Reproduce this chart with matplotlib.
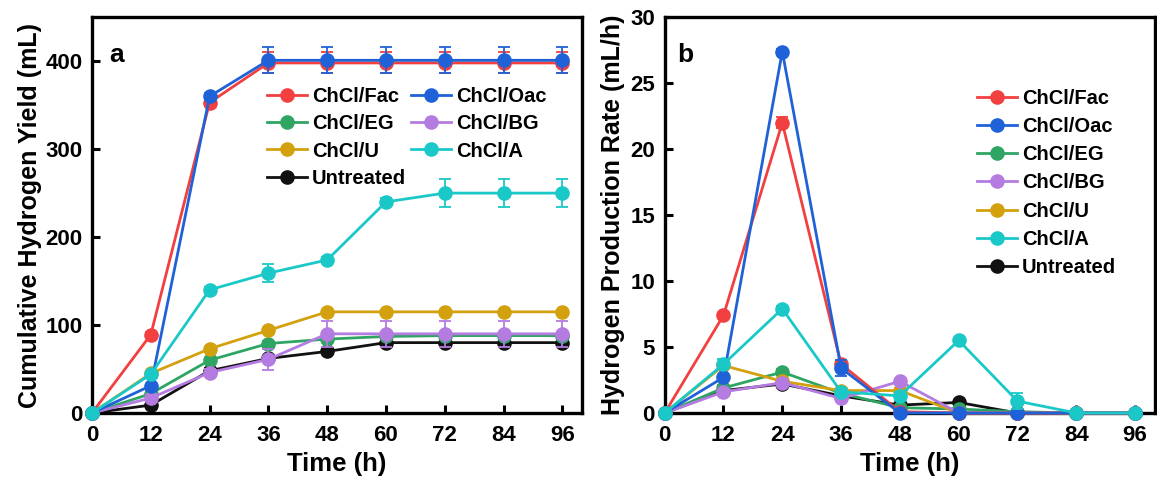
import matplotlib
matplotlib.use("Agg")
import matplotlib.pyplot as plt
from matplotlib.lines import Line2D

plt.rcParams['font.family'] = ['Liberation Sans', 'DejaVu Sans']
plt.rcParams['font.weight'] = 'bold'

time_h = [0, 12, 24, 36, 48, 60, 72, 84, 96]
names = ["ChCl/Fac", "ChCl/Oac", "ChCl/EG", "ChCl/BG", "ChCl/U", "ChCl/A", "Untreated"]
colors = ["#F23F3F", "#1F62D8", "#2FA563", "#B47BE0", "#D3A00E", "#1BC8C8", "#111111"]

# cumulative hydrogen yield (mL)
cum_fac = [0, 89, 353, 398, 398, 398, 398, 398, 398]
cum_oac = [0, 31, 360, 401, 401, 401, 401, 401, 401]
cum_eg = [0, 22, 60, 79, 84, 87, 88, 88, 88]
cum_bg = [0, 17, 46, 61, 90, 90, 90, 90, 90]
cum_u = [0, 45, 73, 94, 115, 115, 115, 115, 115]
cum_a = [0, 44, 140, 159, 174, 240, 250, 250, 250]
cum_un = [0, 9, 48, 62, 70, 80, 80, 80, 80]

err_fac = [0, 3, 4, 12, 12, 12, 12, 12, 12]
err_oac = [0, 2, 4, 15, 15, 15, 15, 15, 15]
err_eg = [0, 3, 3, 3, 3, 3, 3, 3, 3]
err_bg = [0, 3, 4, 12, 15, 15, 15, 15, 15]
err_u = [0, 2, 2, 2, 2, 2, 2, 2, 2]
err_a = [0, 3, 3, 10, 3, 4, 16, 16, 16]
err_un = [0, 2, 3, 3, 2, 2, 2, 2, 2]

# hydrogen production rate (mL/h)
rate_fac = [0, 7.4, 22.0, 3.7, 0.1, 0, 0, 0, 0]
rate_oac = [0, 2.7, 27.4, 3.4, 0, 0, 0, 0, 0]
rate_eg = [0, 1.9, 3.1, 1.5, 0.4, 0.3, 0.1, 0, 0]
rate_bg = [0, 1.6, 2.3, 1.1, 2.4, 0, 0, 0, 0]
rate_u = [0, 3.6, 2.4, 1.7, 1.7, 0, 0, 0, 0]
rate_a = [0, 3.7, 7.9, 1.6, 1.3, 5.5, 0.9, 0, 0]
rate_un = [0, 1.7, 2.2, 1.3, 0.6, 0.8, 0, 0, 0]

rerr_fac = [0, 0.2, 0.4, 0.2, 0, 0, 0, 0, 0]
rerr_oac = [0, 0.2, 0.2, 0.6, 0, 0, 0, 0, 0]
rerr_eg = [0, 0.2, 0.2, 0.2, 0.1, 0.1, 0.1, 0, 0]
rerr_bg = [0, 0.2, 0.2, 0.2, 0.2, 0, 0, 0, 0]
rerr_u = [0, 0.3, 0.2, 0.2, 0.2, 0, 0, 0, 0]
rerr_a = [0, 0.4, 0.2, 0.2, 0.3, 0.2, 0.6, 0, 0]
rerr_un = [0, 0.2, 0.2, 0.2, 0.1, 0.1, 0, 0, 0]

cum = [cum_fac, cum_oac, cum_eg, cum_bg, cum_u, cum_a, cum_un]
cum_err = [err_fac, err_oac, err_eg, err_bg, err_u, err_a, err_un]
rate = [rate_fac, rate_oac, rate_eg, rate_bg, rate_u, rate_a, rate_un]
rate_err = [rerr_fac, rerr_oac, rerr_eg, rerr_bg, rerr_u, rerr_a, rerr_un]

zorders = [4, 5, 3, 3.5, 3.2, 6, 2]

fig = plt.figure(figsize=(11.57, 4.78), dpi=100)
ax1 = fig.add_axes([0.0795, 0.136, 0.4235, 0.828])
ax2 = fig.add_axes([0.5745, 0.136, 0.4235, 0.828])


def draw(ax, data, errs):
    handles = []
    for name, c, y, e, z in zip(names, colors, data, errs, zorders):
        ax.errorbar(time_h, y, yerr=e, color=c, lw=2, marker='o', ms=9.5,
                    mfc=c, mec=c, ecolor=c, elinewidth=1.3, capsize=4,
                    capthick=1.3, zorder=z, clip_on=False)
        # small highlight to mimic the shaded balls
        ax.plot(time_h, y, ls='none', marker='o', ms=3, mfc='white', mec='none',
                alpha=0.45, zorder=z + 0.05, clip_on=False)
        handles.append(Line2D([], [], color=c, lw=2, marker='o', ms=9.5, mfc=c, mec=c, label=name))
    ax.set_xlim(0, 100)
    ax.set_xticks(time_h)
    ax.tick_params(direction='in', length=6, width=2.2, labelsize=16, pad=9)
    for lab in ax.get_xticklabels() + ax.get_yticklabels():
        lab.set_fontweight('bold')
    ax.tick_params(axis='y', pad=7)
    for s in ax.spines.values():
        s.set_linewidth(2.4)
    ax.set_xlabel("Time (h)", fontsize=18.5, fontweight='bold', labelpad=4)
    return handles


h1 = draw(ax1, cum, cum_err)
ax1.set_ylim(0, 450)
ax1.set_yticks([0, 100, 200, 300, 400])
ax1.set_ylabel("Cumulative Hydrogen Yield (mL)", fontsize=18, fontweight='bold', labelpad=2)
ax1.text(0.035, 0.935, "a", transform=ax1.transAxes, fontsize=19, fontweight='bold', va='top')
# two columns filled row by row
order = [0, 2, 4, 6, 1, 3, 5]
ax1.legend(handles=[h1[i] for i in order], ncol=2, loc='upper left', bbox_to_anchor=(0.34, 0.845),
           frameon=False, fontsize=14.5, handlelength=2.0, handletextpad=0.25,
           columnspacing=0.25, labelspacing=0.42, borderaxespad=0)

h2 = draw(ax2, rate, rate_err)
ax2.set_ylim(0, 30)
ax2.set_yticks([0, 5, 10, 15, 20, 25, 30])
ax2.set_ylabel("Hydrogen Production Rate (mL/h)", fontsize=18, fontweight='bold', labelpad=4)
ax2.text(0.025, 0.935, "b", transform=ax2.transAxes, fontsize=19, fontweight='bold', va='top')
ax2.legend(handles=h2, ncol=1, loc='upper left', bbox_to_anchor=(0.62, 0.84),
           frameon=False, fontsize=14.5, handlelength=2.0, handletextpad=0.25,
           labelspacing=0.46, borderaxespad=0)

fig.savefig("out.png", dpi=100)
